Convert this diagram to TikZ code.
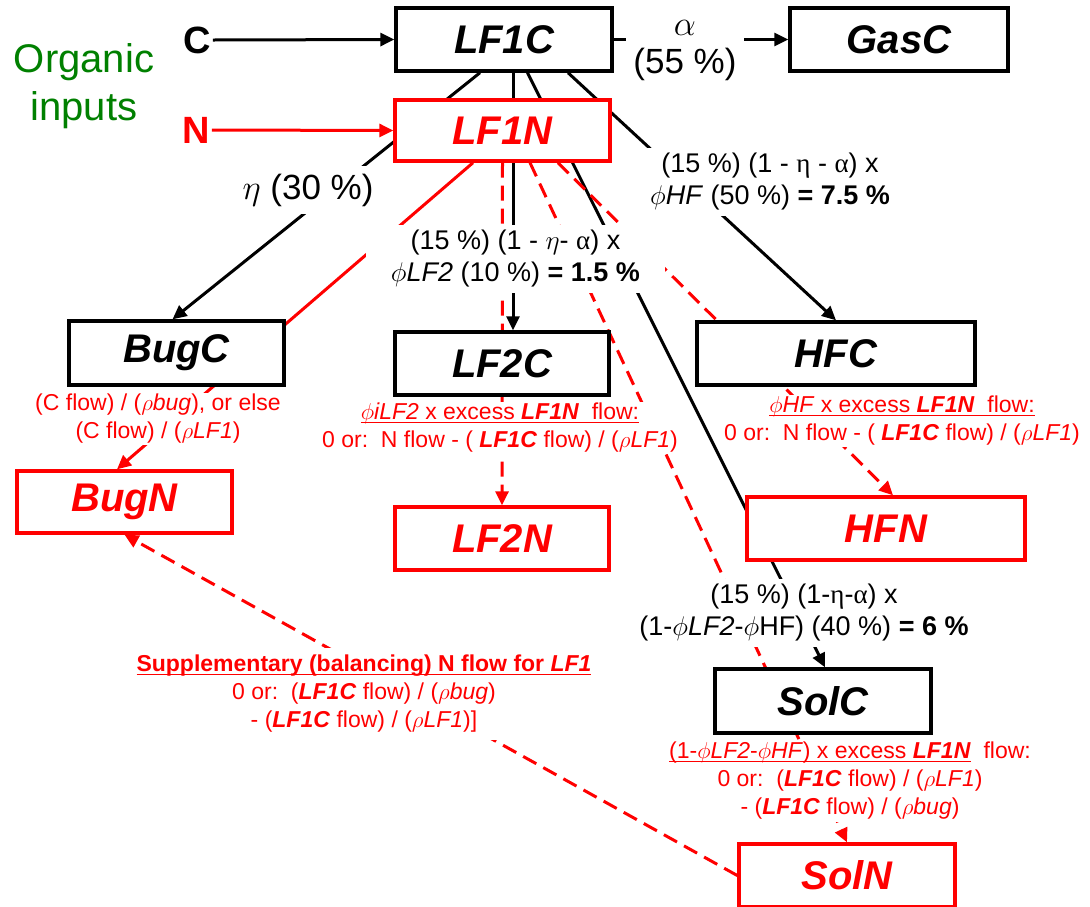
\RequirePackage{fix-cm}
\documentclass[tikz,border=0pt]{standalone}
\usepackage{fontspec}
\setmainfont{Liberation Sans}
\newfontfamily\grk{Liberation Serif}
\usetikzlibrary{arrows.meta,backgrounds}
\definecolor{orgreen}{RGB}{0,128,0}
\definecolor{nred}{RGB}{255,0,0}
% underline drawn as a rule of fixed thickness
\newcommand{\undl}[1]{\setbox0\hbox{#1}\leavevmode\rlap{\rule[-3.5pt]{\wd0}{1.6pt}}\box0}
\newcommand{\bi}[1]{\textbf{\textit{#1}}}

\begin{document}
\begin{tikzpicture}[x=1pt,y=-1pt,
  boxc/.style={draw=black,line width=3.4pt,fill=white,inner sep=0pt,
    font=\fontsize{40}{48}\selectfont\bfseries\itshape,text=black},
  boxn/.style={boxc,draw=nred,text=nred},
  lblk/.style={fill=white,inner xsep=3pt,inner ysep=2pt,align=center,
    font=\fontsize{27}{32}\selectfont,text=black},
  lbig/.style={lblk,font=\fontsize{35}{38}\selectfont},
  lred/.style={fill=white,inner xsep=3pt,inner ysep=1pt,align=center,
    font=\fontsize{23}{28}\selectfont,text=nred},
  cline/.style={line width=3pt,draw=black},
  carrow/.style={cline,-{Triangle[length=14pt,width=13pt]}},
  rline/.style={line width=3pt,draw=nred},
  rarrow/.style={rline,-{Triangle[length=14pt,width=13pt]}},
  rdash/.style={rarrow,dash pattern=on 15pt off 8pt},
]
\useasboundingbox (0,0) rectangle (1090,906);

% ---- pools ----
\node[boxc,minimum width=216pt,minimum height=63pt] (LF1C) at (504,39.5) {LF1C};
\node[boxc,minimum width=218pt,minimum height=63pt] (GasC) at (899,39.5) {GasC};
\node[boxn,minimum width=215pt,minimum height=61pt] (LF1N) at (502.5,130.5) {LF1N};
\node[boxc,minimum width=215pt,minimum height=64pt] (BugC) at (176.5,353) {BugC};
\node[boxc,minimum width=214pt,minimum height=63pt] (LF2C) at (502,363.5) {LF2C};
\node[boxc,minimum width=278pt,minimum height=63pt] (HFC) at (836,353.5) {HFC};
\node[boxn,minimum width=215pt,minimum height=62pt] (BugN) at (124.5,502) {BugN};
\node[boxn,minimum width=214pt,minimum height=63pt] (LF2N) at (502,538.5) {LF2N};
\node[boxn,minimum width=278pt,minimum height=63pt] (HFN) at (886,528.5) {HFN};
\node[boxc,minimum width=216pt,minimum height=64pt] (SolC) at (823,701) {SolC};
\node[boxn,minimum width=216pt,minimum height=63pt] (SolN) at (847,875.5) {SolN};

% ---- inputs ----
\node[font=\fontsize{40}{48}\selectfont,text=orgreen,align=center] (lblOrg) at (84,86) {Organic\\inputs};
\node[font=\fontsize{38}{44}\selectfont\bfseries,inner sep=2pt] (Cin) at (197,40) {C};
\node[font=\fontsize{38}{44}\selectfont\bfseries,text=nred,inner sep=2pt] (Nin) at (196,130) {N};

% ---- flow labels (opaque, they interrupt the connectors) ----
\node[lbig,minimum width=118pt] (lblAlpha) at (685,51) {$\alpha$\\(55 \%)};
\node[lbig,minimum height=48pt] (lblEta) at (308,190) {$\eta$ (30 \%)};
\node[lblk,minimum width=245pt,minimum height=68pt] (lblHF) at (770,182)
  {(15 \%) (1 - {\grk η} - {\grk α}) x\\$\phi$\textit{HF} (50 \%) \textbf{= 7.5 \%}};
\node[lblk,minimum width=299pt,minimum height=68pt] (lblLF2) at (515.5,259)
  {(15 \%) (1 - $\eta$- {\grk α}) x\\$\phi$\textit{LF2} (10 \%) \textbf{= 1.5 \%}};
\node[lblk,minimum height=68pt] (lblSol) at (804,613)
  {(15 \%) (1-{\grk η}-{\grk α}) x\\(1-$\phi$\textit{LF2}-$\phi$HF) (40 \%) \textbf{= 6 \%}};

\node[lred] (noteBug) at (158,419)
  {(C flow) / ($\rho$\textit{bug}), or else\\(C flow) / ($\rho$\textit{LF1})};
\node[lred] (noteLF2) at (500,428)
  {\undl{$\phi$\textit{iLF2} x excess \bi{LF1N}\ \ flow:}\\0 or:\ \ N flow - ( \bi{LF1C} flow) / ($\rho$\textit{LF1})};
\node[lred] (noteHF) at (902,421)
  {\undl{$\phi$\textit{HF} x excess \bi{LF1N}\ \ flow:}\\0 or:\ \ N flow - ( \bi{LF1C} flow) / ($\rho$\textit{LF1})};
\node[lred,inner ysep=2pt] (noteSol) at (850,781)
  {\undl{(1-$\phi$\textit{LF2}-$\phi$\textit{HF}) x excess \bi{LF1N}}\ \ flow:\\0 or:\ \ (\bi{LF1C} flow) / ($\rho$\textit{LF1})\\- (\bi{LF1C} flow) / ($\rho$\textit{bug})};
\node[lred,inner ysep=7pt] (noteSup) at (364,694)
  {\undl{\textbf{Supplementary (balancing) N flow for \textit{LF1}}}\\0 or:\ \ (\bi{LF1C} flow) / ($\rho$\textit{bug})\\- (\bi{LF1C} flow) / ($\rho$\textit{LF1})]};

% ---- connectors, kept behind pools and labels ----
\begin{pgfonlayer}{background}
  \fill[white] (0,0) rectangle (1090,906);
  % carbon flows
  \draw[carrow] (Cin.east) -- (LF1C.west);
  \draw[carrow] (LF1C.east) -- (GasC.west);
  \draw[carrow] ([xshift=-24pt]LF1C.south) -- ([xshift=-4pt]BugC.north);
  \draw[carrow] ([xshift=9pt]LF1C.south) -- ([xshift=11pt]LF2C.north);
  \draw[carrow] ([xshift=23.5pt]LF1C.south) -- ([xshift=2pt]SolC.north);
  \draw[carrow] ([xshift=64pt]LF1C.south) -- (HFC.north);
  % nitrogen flows
  \draw[rarrow] (Nin.east) -- (LF1N.west);
  \draw[rarrow] ([xshift=-29.5pt]LF1N.south) -- ([xshift=-7.5pt]BugN.north);
  \draw[rdash] (LF1N.south) -- (LF2N.north);
  \draw[rdash] ([xshift=27.5pt]LF1N.south) -- (SolN.north);
  \draw[rdash] ([xshift=55.5pt]LF1N.south) -- ([xshift=7pt]HFN.north);
  \draw[rdash] (SolN.west) -- (BugN.south);
\end{pgfonlayer}
\end{tikzpicture}
\end{document}
